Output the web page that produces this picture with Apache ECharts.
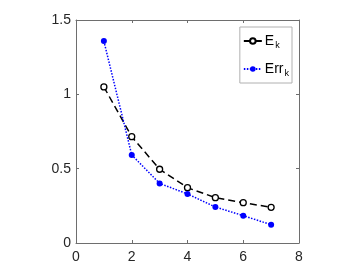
<!DOCTYPE html>
<html>
<head>
<meta charset="utf-8">
<script src="https://cdn.jsdelivr.net/npm/echarts@6/dist/echarts.min.js"></script>
<style>html,body{margin:0;padding:0;background:#fff}#c{width:364px;height:273px}</style>
</head>
<body>
<div id="c"></div>
<script>
const xs = [1, 2, 3, 4, 5, 6, 7];
const ekValues = [1.05, 0.715, 0.496, 0.372, 0.305, 0.271, 0.240];
const errValues = [1.358, 0.592, 0.401, 0.330, 0.242, 0.184, 0.123];
const xTicks = [0, 2, 4, 6, 8];
const yTicks = [0, 0.5, 1, 1.5];

const chart = echarts.init(document.getElementById('c'), null, {renderer: 'canvas'});
const font = 'Liberation Sans, Arial, sans-serif';
const axisColor = '#6e6e6e';
const labelColor = '#262626';
const xAxisBase = {
  type: 'value', min: xTicks[0], max: xTicks[xTicks.length - 1], interval: 2,
  axisLine: {show: true, onZero: false, lineStyle: {color: axisColor, width: 1}},
  axisTick: {show: true, inside: true, length: 3, lineStyle: {color: axisColor}},
  splitLine: {show: false}
};
const yAxisBase = {
  type: 'value', min: yTicks[0], max: yTicks[yTicks.length - 1], interval: 0.5,
  axisLine: {show: true, onZero: false, lineStyle: {color: axisColor, width: 1}},
  axisTick: {show: true, inside: true, length: 3, lineStyle: {color: axisColor}},
  splitLine: {show: false}
};
chart.setOption({
  animation: false,
  grid: {left: 76, right: 65, top: 20, bottom: 30, containLabel: false},
  legend: {
    orient: 'vertical', right: 72, top: 27,
    padding: [7, 3, 5, 3], itemGap: 12, itemWidth: 18, itemHeight: 7,
    borderColor: '#b0b0b0', borderWidth: 1, backgroundColor: '#fff', borderRadius: 0,
    data: ['Ek', 'Errk'],
    formatter: function (name) {
      return name === 'Ek' ? '{a|E}{s|k}' : '{a|Err}{s|k}';
    },
    textStyle: {
      color: '#000', fontFamily: font, fontSize: 14, padding: [0, 0, 0, -2],
      rich: {
        a: {fontSize: 14, fontFamily: font, color: '#000'},
        s: {fontSize: 9, fontFamily: font, color: '#000', verticalAlign: 'bottom', padding: [9, 0, 0, 1]}
      }
    }
  },
  xAxis: [
    Object.assign({}, xAxisBase, {position: 'bottom',
      axisLabel: {show: true, color: labelColor, fontFamily: font, fontSize: 14, margin: 7}}),
    Object.assign({}, xAxisBase, {position: 'top', axisLabel: {show: false}})
  ],
  yAxis: [
    Object.assign({}, yAxisBase, {position: 'left',
      axisLabel: {show: true, color: labelColor, fontFamily: font, fontSize: 14, margin: 5}}),
    Object.assign({}, yAxisBase, {position: 'right', axisLabel: {show: false}})
  ],
  series: [
    {
      name: 'Ek', type: 'line', xAxisIndex: 0, yAxisIndex: 0,
      data: xs.map((x, i) => [x, ekValues[i]]),
      symbol: 'circle', symbolSize: 6, showSymbol: true,
      lineStyle: {color: '#000', width: 1.5, type: [7, 4]},
      itemStyle: {color: '#fff', borderColor: '#000', borderWidth: 1.3},
      z: 2
    },
    {
      name: 'Errk', type: 'line', xAxisIndex: 0, yAxisIndex: 0,
      data: xs.map((x, i) => [x, errValues[i]]),
      symbol: 'circle', symbolSize: 6, showSymbol: true,
      lineStyle: {color: '#0000ff', width: 1.5, type: [1.5, 1.5]},
      itemStyle: {color: '#0000ff', borderColor: '#0000ff', borderWidth: 0},
      z: 3
    }
  ]
});
</script>
</body>
</html>
